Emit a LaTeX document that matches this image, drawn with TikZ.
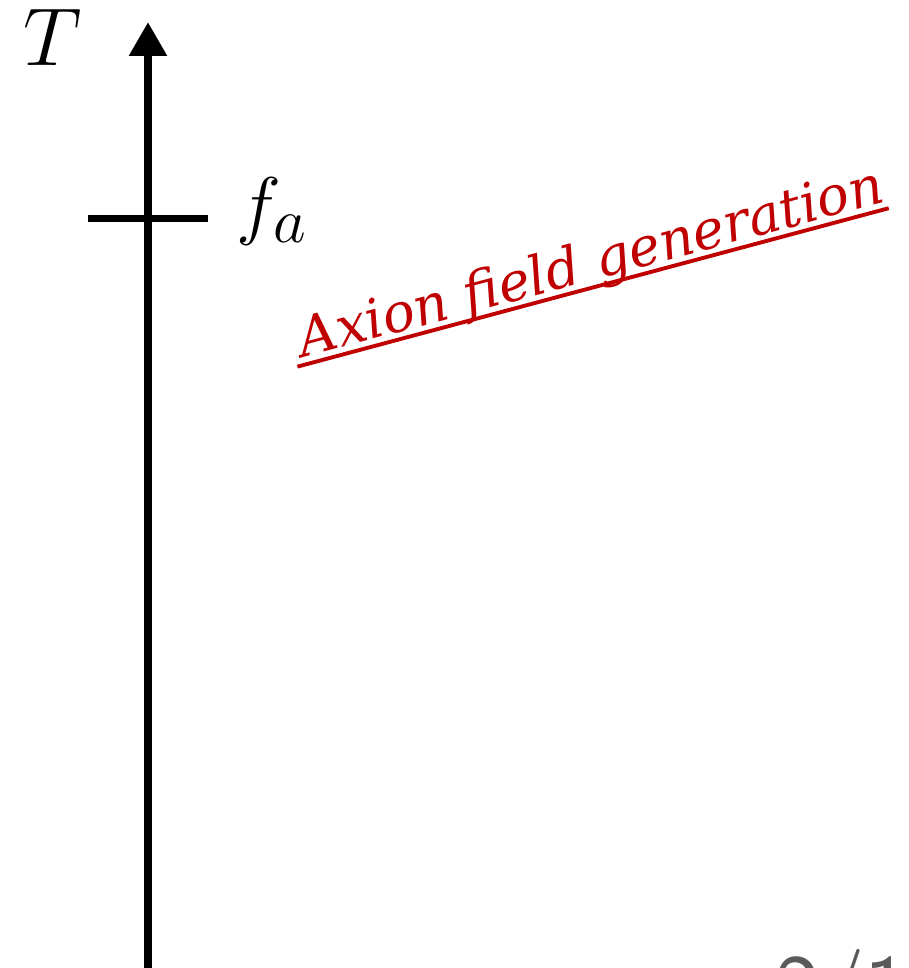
\documentclass[tikz,border=0pt]{standalone}
\usepackage{fontspec}
\usepackage{tikz}
\usetikzlibrary{arrows.meta,positioning,calc}
\newfontfamily\genfont{DejaVu Serif}
\definecolor{Gencolor}{HTML}{C00000}
\definecolor{Pagecolor}{HTML}{5A5A5A}

\begin{document}
\begin{tikzpicture}[x=0.01cm, y=0.01cm,
  axisline/.style={line width=2.4pt, -{Triangle[length=3.4mm, width=3.6mm]}},
  tickline/.style={line width=2pt},
  mathlabel/.style={inner sep=0pt, font=\Huge, scale=0.87},
  genlabel/.style={inner sep=0pt, rotate=15, anchor=base west, text=Gencolor, font=\genfont\itshape\fontsize{15.3}{18}\selectfont},
  genline/.style={draw=Gencolor, line width=1.1pt},
]
  \useasboundingbox (0,0) rectangle (908,968);

  % temperature axis
  \coordinate (bot) at (148,-10);
  \coordinate (top) at (148,946);
  \draw[axisline] (bot) -- (top);
  \node[mathlabel, scale=1.08] (tlab) at (53,931) {$T$};

  % tick at f_a
  \coordinate (tickl) at (88,749);
  \coordinate (tickr) at (208,749);
  \draw[tickline] (tickl) -- (tickr);
  \node[mathlabel, anchor=base west] (falab) at (236,737) {$f_a$};

  % generation label, underlined
  \node[genlabel] (gen) at (303,610) {Axion field generation};
  \draw[genline] ([shift={(-105:8)}]$(gen.base west)!-0.006!(gen.base east)$) -- ([shift={(-105:8)}]$(gen.base east)!-0.006!(gen.base west)$);

  % page number (cut off)
  \node[anchor=north west, inner sep=0pt, text=Pagecolor, font=\sffamily\fontsize{27}{32}\selectfont] (page) at (775,19) {2/17};
\end{tikzpicture}
\end{document}
